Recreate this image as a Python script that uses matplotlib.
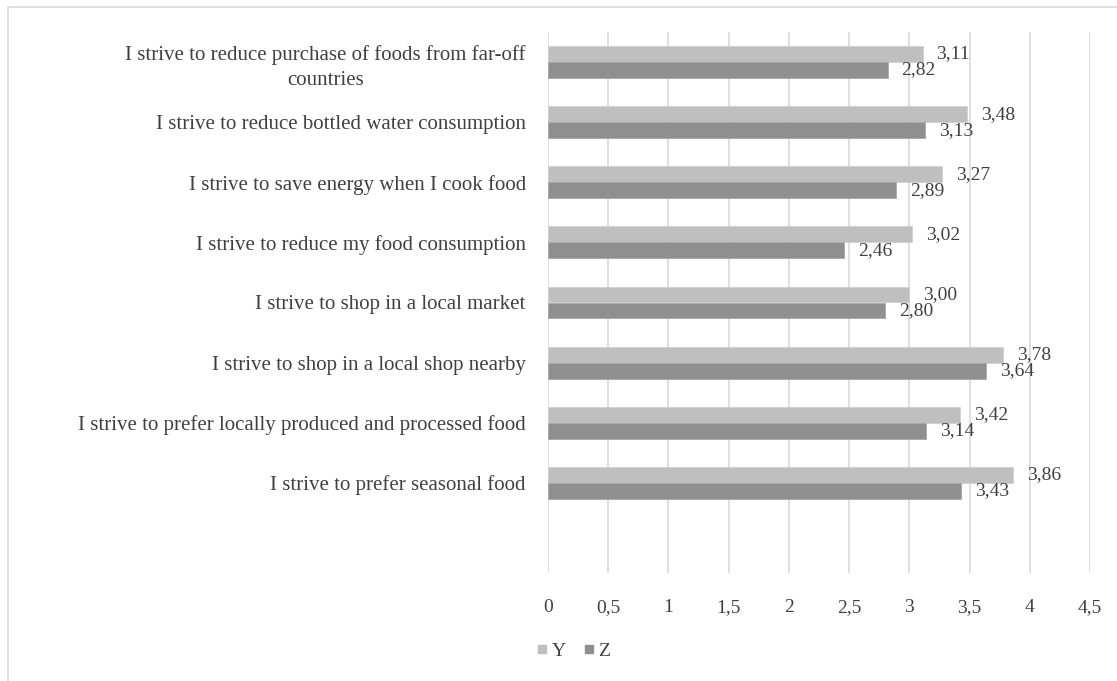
import matplotlib
matplotlib.use("Agg")
import matplotlib.pyplot as plt
from matplotlib.lines import Line2D
from matplotlib.patches import Rectangle
import numpy as np

# categories top to bottom; last slot is empty in the source chart
CATEGORIES = [
    "I strive to reduce purchase of foods from far-off\ncountries",
    "I strive to reduce bottled water consumption",
    "I strive to save energy when I cook food",
    "I strive to reduce my food consumption",
    "I strive to shop in a local market",
    "I strive to shop in a local shop nearby",
    "I strive to prefer locally produced and processed food",
    "I strive to prefer seasonal food",
    "",
]
Y_VALUES = [3.11, 3.48, 3.27, 3.02, 3.00, 3.78, 3.42, 3.86]
Z_VALUES = [2.82, 3.13, 2.89, 2.46, 2.80, 3.64, 3.14, 3.43]
X_TICKS = [0, 0.5, 1, 1.5, 2, 2.5, 3, 3.5, 4, 4.5]

Y_COLOR = "#bfbfbf"
Z_COLOR = "#8f8f8f"
TEXT = "#404040"
FONT = "Liberation Serif"

W, H = 1117, 681
fig = plt.figure(figsize=(W / 100, H / 100), dpi=100)
fig.patch.set_facecolor("white")

# chart border (only left/top visible in the crop)
fig.patches.append(Rectangle((8 / W, -0.05), 1.2, 1 - 7 / H + 0.05,
                             transform=fig.transFigure, fill=False,
                             edgecolor="#d9d9d9", lw=1.2))

ax = fig.add_axes([548 / W, 1 - 573 / H, (1090 - 548) / W, (573 - 32) / H])

n = len(CATEGORIES)
pos = np.arange(n)
bh = 0.266
yv = Y_VALUES
zv = Z_VALUES
ax.barh(pos[:len(yv)] - bh / 2, yv, height=bh, color=Y_COLOR,
        edgecolor="#d0d0d0", linewidth=0.6, zorder=2)
ax.barh(pos[:len(zv)] + bh / 2, zv, height=bh, color=Z_COLOR,
        edgecolor="#a8a8a8", linewidth=0.6, zorder=2)

for i, (a, b) in enumerate(zip(yv, zv)):
    ax.annotate(f"{a:.2f}".replace(".", ","), (a, i - bh / 2),
                xytext=(10, 0), textcoords="offset points",
                va="center", ha="left", fontsize=14, family=FONT, color=TEXT)
    ax.annotate(f"{b:.2f}".replace(".", ","), (b, i + bh / 2),
                xytext=(10, 0), textcoords="offset points",
                va="center", ha="left", fontsize=14, family=FONT, color=TEXT)

ax.set_ylim(n - 0.5, -0.5)
ax.set_xlim(0, 4.5)
ax.set_xticks(X_TICKS)
ax.set_xticklabels([f"{t:g}".replace(".", ",") for t in X_TICKS],
                   family=FONT, fontsize=14, color=TEXT, va="baseline")
ax.set_yticks(pos)
ax.set_yticklabels(CATEGORIES, family=FONT, fontsize=15, color=TEXT,
                   multialignment="center", linespacing=1.45)
ax.tick_params(axis="both", length=0)
ax.tick_params(axis="x", pad=28)
ax.tick_params(axis="y", pad=16)
for sp in ax.spines.values():
    sp.set_visible(False)
ax.grid(axis="x", color="#d9d9d9", lw=1.2, zorder=0)
ax.set_axisbelow(True)

handles = [
    Line2D([0], [0], marker="s", ls="none", color=Y_COLOR, markersize=5.5, label="Y"),
    Line2D([0], [0], marker="s", ls="none", color=Z_COLOR, markersize=5.5, label="Z"),
]
fig.legend(handles=handles, loc="center left", bbox_to_anchor=(520 / W, 1 - 651 / H),
           ncol=2, frameon=False, handlelength=0.5, handletextpad=0.25,
           columnspacing=0.9, prop={"family": FONT, "size": 14},
           labelcolor=TEXT)

fig.savefig("out.png", dpi=100, facecolor="white")
